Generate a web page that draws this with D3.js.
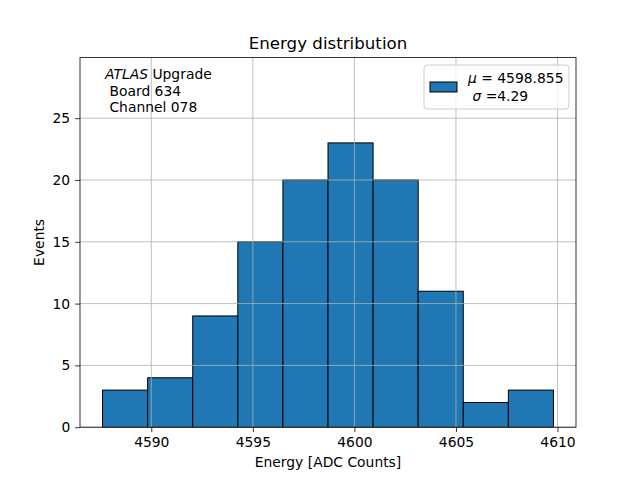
<!DOCTYPE html>
<html>
<head>
<meta charset="utf-8">
<script src="https://cdn.jsdelivr.net/npm/d3@7"></script>
<style>
  body { margin: 0; background: #fff; }
  svg { font-family: "DejaVu Sans", sans-serif; }
</style>
</head>
<body>
<div id="container"></div>
<script>
// histogram data
const binStart = 4587.6;
const binEnd = 4609.8;
const counts = [3, 4, 9, 15, 20, 23, 20, 11, 2, 3];
const xTicks = [4590, 4595, 4600, 4605, 4610];
const yTicks = [0, 5, 10, 15, 20, 25];
const infoLines = ['Upgrade', ' Board 634', ' Channel 078'];
const legendLines = ['\u03bc = 4598.855', ' \u03c3 =4.29'];

const fs = 13.89;   // 10pt at 100 dpi
const fsTitle = 16.67;

const margin = { top: 57.6, right: 64, bottom: 52.8, left: 80 };
const width = 640 - margin.left - margin.right;
const height = 480 - margin.top - margin.bottom;

const binWidth = (binEnd - binStart) / counts.length;
const bins = counts.map((c, i) => ({ x0: binStart + i * binWidth, x1: binStart + (i + 1) * binWidth, n: c }));

const svg = d3.select('#container')
  .append('svg')
  .attr('width', 640)
  .attr('height', 480);

const g = svg.append('g')
  .attr('transform', `translate(${margin.left}, ${margin.top})`);

const span = binEnd - binStart;
const xScale = d3.scaleLinear()
  .domain([binStart - 0.05 * span, binEnd + 0.05 * span])
  .range([0, width]);

const yScale = d3.scaleLinear()
  .domain([0, d3.max(counts) * 1.3])
  .range([height, 0]);

// bars
g.selectAll('.bar')
  .data(bins)
  .enter()
  .append('rect')
  .attr('class', 'bar')
  .attr('x', d => xScale(d.x0))
  .attr('y', d => yScale(d.n))
  .attr('width', d => xScale(d.x1) - xScale(d.x0))
  .attr('height', d => yScale(0) - yScale(d.n))
  .attr('fill', '#1f77b4')
  .attr('stroke', '#000')
  .attr('stroke-width', 1);

// grid, drawn over the bars like the original
const grid = g.append('g').attr('class', 'grid');
grid.selectAll('.vgrid')
  .data(xTicks)
  .enter()
  .append('line')
  .attr('x1', d => xScale(d))
  .attr('x2', d => xScale(d))
  .attr('y1', 0)
  .attr('y2', height)
  .attr('stroke', '#b0b0b0')
  .attr('stroke-width', 0.8);
grid.selectAll('.hgrid')
  .data(yTicks)
  .enter()
  .append('line')
  .attr('x1', 0)
  .attr('x2', width)
  .attr('y1', d => yScale(d))
  .attr('y2', d => yScale(d))
  .attr('stroke', '#b0b0b0')
  .attr('stroke-width', 0.8);

// axes
const xAxis = d3.axisBottom(xScale).tickValues(xTicks).tickSize(4.9).tickPadding(4.9).tickFormat(d3.format('d'));
const yAxis = d3.axisLeft(yScale).tickValues(yTicks).tickSize(4.9).tickPadding(4.9);

g.append('g')
  .attr('transform', `translate(0, ${height})`)
  .call(xAxis)
  .call(a => a.select('.domain').remove());

g.append('g')
  .call(yAxis)
  .call(a => a.select('.domain').remove());

g.selectAll('.tick text')
  .attr('font-size', fs)
  .attr('font-family', '"DejaVu Sans", sans-serif')
  .attr('fill', '#000');
g.selectAll('.tick line').attr('stroke', '#000').attr('stroke-width', 0.8);

// frame
g.append('rect')
  .attr('width', width)
  .attr('height', height)
  .attr('fill', 'none')
  .attr('stroke', '#000')
  .attr('stroke-width', 0.8);

// title and labels
svg.append('text')
  .attr('x', margin.left + width / 2)
  .attr('y', margin.top - 8.5)
  .attr('text-anchor', 'middle')
  .attr('font-size', fsTitle)
  .text('Energy distribution');

svg.append('text')
  .attr('x', margin.left + width / 2)
  .attr('y', 467)
  .attr('text-anchor', 'middle')
  .attr('font-size', fs)
  .text('Energy [ADC Counts]');

svg.append('text')
  .attr('transform', `translate(44, ${margin.top + height / 2}) rotate(-90)`)
  .attr('text-anchor', 'middle')
  .attr('font-size', fs)
  .text('Events');

// info text at top left
const info = svg.append('text')
  .attr('x', 105)
  .attr('y', 79)
  .attr('font-size', fs)
  .style('white-space', 'pre');
info.append('tspan').attr('font-style', 'italic').text('ATLAS');
info.append('tspan').text(' ' + infoLines[0]);
infoLines.slice(1).forEach((t, i) => {
  svg.append('text')
    .attr('x', 105)
    .attr('y', 79 + 16.5 * (i + 1))
    .attr('font-size', fs)
    .style('white-space', 'pre')
    .text(t);
});

// legend
const lg = svg.append('g').attr('transform', 'translate(424, 65)');
lg.append('rect')
  .attr('width', 145)
  .attr('height', 44)
  .attr('rx', 3)
  .attr('fill', '#fff')
  .attr('fill-opacity', 0.8)
  .attr('stroke', '#cccccc')
  .attr('stroke-width', 1);
lg.append('rect')
  .attr('x', 6)
  .attr('y', 17)
  .attr('width', 27)
  .attr('height', 10)
  .attr('fill', '#1f77b4')
  .attr('stroke', '#000')
  .attr('stroke-width', 1);

function legendLine(str, y) {
  const t = lg.append('text')
    .attr('x', 44)
    .attr('y', y)
    .attr('font-size', fs)
    .style('white-space', 'pre');
  const sym = str.trim().charAt(0);
  const lead = str.slice(0, str.indexOf(sym));
  t.append('tspan').text(lead);
  t.append('tspan').attr('font-style', 'italic').text(sym);
  t.append('tspan').text(str.slice(str.indexOf(sym) + 1));
}
legendLine(legendLines[0], 18);
legendLine(legendLines[1], 36);
</script>
</body>
</html>
